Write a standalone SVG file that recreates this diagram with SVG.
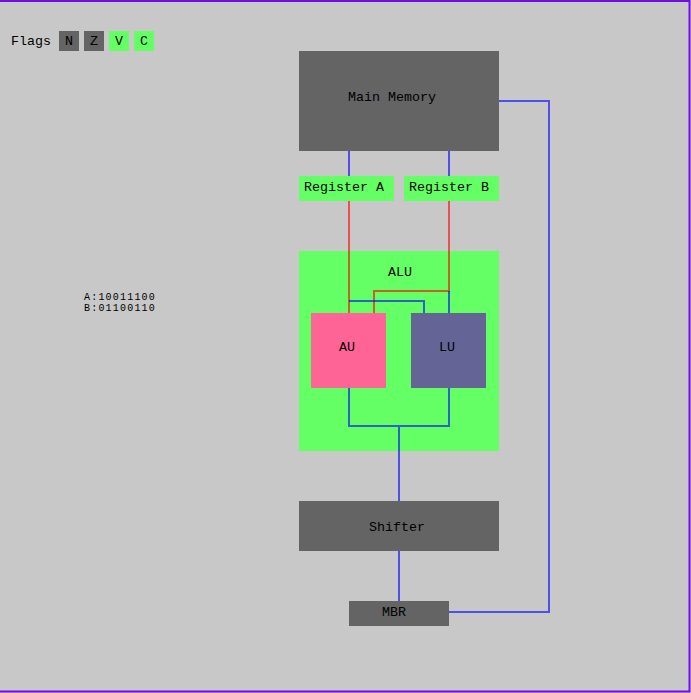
<svg xmlns="http://www.w3.org/2000/svg" width="691" height="693" viewBox="0 0 691 693">
<style>
text{font-family:"Liberation Mono","DejaVu Sans Mono",monospace;font-size:13.33px;fill:#000;}
.c{text-anchor:middle;}
.s{font-size:10px;letter-spacing:1.2px;}
.dark{fill:#646464;}
.green{fill:#64ff64;}
.w{stroke:#0000ff;stroke-opacity:0.6;stroke-width:2;fill:none;}
.r{stroke:#ff0000;stroke-opacity:0.6;stroke-width:2;fill:none;}
</style>
<rect x="0" y="0" width="691" height="693" fill="#c8c8c8"/>
<path d="M0 1H689.5V691.5H0" fill="none" stroke="#7010e0" stroke-width="2"/>
<g id="flags">
<text x="11" y="45">Flags</text>
<rect class="dark" x="59" y="31" width="20" height="20"/><text class="c" x="69" y="45">N</text>
<rect class="dark" x="84" y="31" width="20" height="20"/><text class="c" x="94" y="45">Z</text>
<rect class="green" x="109" y="31" width="20" height="20"/><text class="c" x="119" y="45">V</text>
<rect class="green" x="134" y="31" width="20" height="20"/><text class="c" x="144" y="45">C</text>
</g>
<g id="registers-values">
<text class="s" x="84" y="300">A:10011100</text>
<text class="s" x="84" y="311">B:01100110</text>
</g>
<g id="main-memory">
<rect class="dark" x="299" y="51" width="200" height="100"/>
<text class="c" x="392" y="101">Main Memory</text>
</g>
<g id="register-a">
<rect class="green" x="299" y="176" width="95" height="25"/>
<text class="c" x="344" y="191">Register A</text>
</g>
<g id="register-b">
<rect class="green" x="404" y="176" width="95" height="25"/>
<text class="c" x="449" y="191">Register B</text>
</g>
<g id="alu">
<rect class="green" x="299" y="251" width="200" height="200"/>
<text class="c" x="400" y="276">ALU</text>
</g>
<g id="au">
<rect x="311" y="313" width="75" height="75" fill="#ff6496"/>
<text class="c" x="347" y="351">AU</text>
</g>
<g id="lu">
<rect x="411" y="313" width="75" height="75" fill="#646496"/>
<text class="c" x="447" y="351">LU</text>
</g>
<g id="shifter">
<rect class="dark" x="299" y="501" width="200" height="50"/>
<text class="c" x="397" y="531">Shifter</text>
</g>
<g id="mbr">
<rect class="dark" x="349" y="601" width="100" height="25"/>
<text class="c" x="394" y="616">MBR</text>
</g>
<g id="connectors">
<path class="w" d="M349 151V176M449 151V176"/>
<path class="r" d="M349 201V313M449 201V291H374V313"/>
<path class="w" d="M349 301H424V313M449 291V313"/>
<path class="w" d="M349 388V426H449V388M399 426V501"/>
<path class="w" d="M399 551V601"/>
<path class="w" d="M449 612H549V101H499"/>
</g>
</svg>
